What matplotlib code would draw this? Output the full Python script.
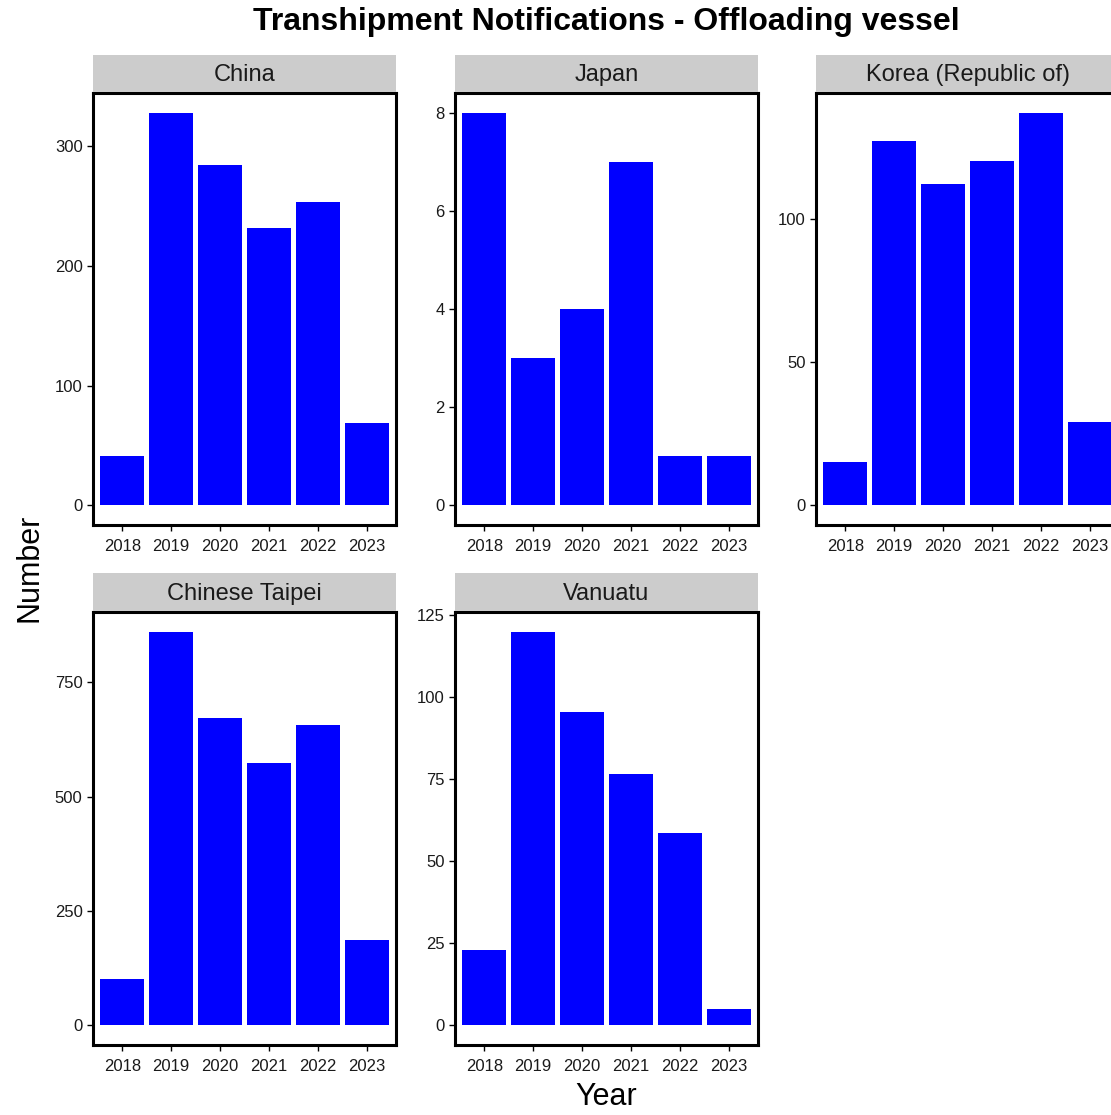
import matplotlib
matplotlib.use("Agg")
import matplotlib.pyplot as plt
plt.rcParams['font.family'] = ['Liberation Sans', 'DejaVu Sans']

years = ["2018", "2019", "2020", "2021", "2022", "2023"]
countries = ["China", "Japan", "Korea (Republic of)", "Chinese Taipei", "Vanuatu"]
china = [41, 328, 284, 232, 253, 69]
japan = [8, 3, 4, 7, 1, 1]
korea = [15, 127, 112, 120, 137, 29]
taipei = [102, 861, 672, 574, 657, 187]
vanuatu = [23, 120, 95.5, 76.6, 58.7, 5]
values = [china, japan, korea, taipei, vanuatu]
yticks = [[0, 100, 200, 300], [0, 2, 4, 6, 8], [0, 50, 100],
          [0, 250, 500, 750], [0, 25, 50, 75, 100, 125]]

W, H = 1111, 1115
fig = plt.figure(figsize=(W/100, H/100), dpi=100)
pw = 303
xs = [93, 455, 816]
rows = [(55, 93, 525), (573, 612, 1045)]

for i, (name, vals) in enumerate(zip(countries, values)):
    r, c = divmod(i, 3)
    st, y0, y1 = rows[r]
    x0 = xs[c]
    ax = fig.add_axes([x0/W, 1 - y1/H, pw/W, (y1-y0)/H])
    pos = list(range(1, 7))
    ax.bar(pos, vals, width=0.9, color="#0000FF")
    m = max(vals)
    ax.set_ylim(-0.05*m, 1.05*m)
    ax.set_xlim(0.4, 6.6)
    ax.set_xticks(pos)
    ax.set_xticklabels(years)
    ax.set_yticks(yticks[i])
    ax.tick_params(labelsize=12, length=4, width=1, color="black", labelcolor="#1A1A1A")
    ax.tick_params(axis="x", pad=6)
    for s in ax.spines.values():
        s.set_linewidth(2.2)
        s.set_color("black")
    sax = fig.add_axes([x0/W, 1 - (y0-1)/H, pw/W, (y0-1-st)/H])
    sax.set_facecolor("#CCCCCC")
    sax.set_xticks([]); sax.set_yticks([])
    for s in sax.spines.values():
        s.set_visible(False)
    sax.text(0.5, 0.45, name, ha="center", va="center", fontsize=17,
             color="#1A1A1A", transform=sax.transAxes)

fig.text(606/W, 1 - 22/H, "Transhipment Notifications - Offloading vessel",
         ha="center", va="center", fontsize=23, fontweight="bold")
fig.text(29/W, 1 - 568/H, "Number", rotation=90, ha="center", va="center", fontsize=22)
fig.text(606/W, 1 - 1097/H, "Year", ha="center", va="center", fontsize=22)

fig.savefig("out.png", dpi=100)
